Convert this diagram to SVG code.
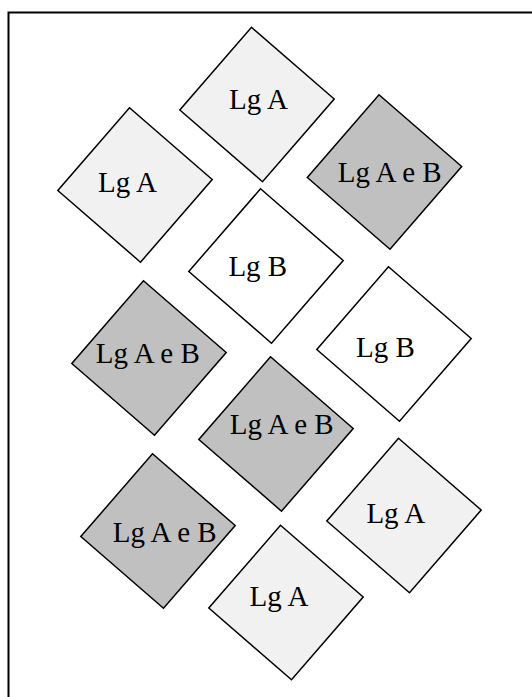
<svg xmlns="http://www.w3.org/2000/svg" width="532" height="697" viewBox="0 0 532 697">
  <defs>
    <!-- one tilted square, centred on the origin -->
    <polygon id="tile" points="-5.5,-77.2 77.2,-5.5 5.5,77.2 -77.2,5.5"/>
    <style>
      .frame { fill: none; stroke: #000; stroke-width: 2; }
      .a use { fill: #f1f1f1; stroke: #000; stroke-width: 1.5; }
      .ab use { fill: #c0c0c0; stroke: #000; stroke-width: 1.5; }
      .b use { fill: #ffffff; stroke: #000; stroke-width: 1.5; }
      text { font-family: "Liberation Serif", "Times New Roman", serif; font-size: 29px; fill: #000; text-anchor: middle; }
    </style>
  </defs>
  <rect width="532" height="697" fill="#fff"/>
  <!-- outer frame (top and left edges) -->
  <path class="frame" d="M8.5,700 V12.5 H540"/>

  <g id="n1" class="a"><use href="#tile" x="257" y="104.5"/><text x="258.5" y="109.3">Lg A</text></g>
  <g id="n2" class="a"><use href="#tile" x="135" y="185"/><text x="127.5" y="191.7">Lg A</text></g>
  <g id="n3" class="ab"><use href="#tile" x="384.5" y="172"/><text x="389.7" y="182">Lg A e B</text></g>
  <g id="n4" class="b"><use href="#tile" x="266" y="266"/><text x="257.8" y="275.7">Lg B</text></g>
  <g id="n5" class="ab"><use href="#tile" x="149" y="358"/><text x="147.8" y="362.7">Lg A e B</text></g>
  <g id="n6" class="b"><use href="#tile" x="394" y="344"/><text x="385.5" y="356.7">Lg B</text></g>
  <g id="n7" class="ab"><use href="#tile" x="276" y="434"/><text x="281.7" y="434.3">Lg A e B</text></g>
  <g id="n8" class="ab"><use href="#tile" x="158" y="531"/><text x="164.7" y="541.7">Lg A e B</text></g>
  <g id="n9" class="a"><use href="#tile" x="404" y="515.5"/><text x="395.8" y="523.3">Lg A</text></g>
  <g id="n10" class="a"><use href="#tile" x="286" y="602.5"/><text x="279" y="605.7">Lg A</text></g>
  <g id="connectors"/>
</svg>
